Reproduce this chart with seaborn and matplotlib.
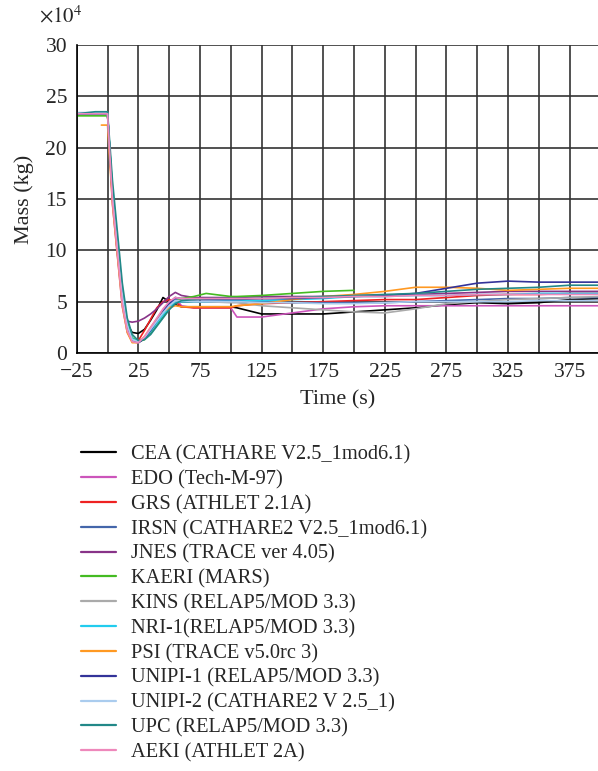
import numpy as np
import pandas as pd
import matplotlib
matplotlib.use("Agg")
import matplotlib.pyplot as plt
from matplotlib.ticker import MultipleLocator
import seaborn as sns

nan = np.nan
# time grid (s)
time_s = [-25, -10, -5, 0, 4, 8, 12, 16, 20, 25, 30, 35, 40, 45, 50, 55, 60,
          70, 80, 100, 105, 125, 150, 175, 200, 225, 250, 275, 300, 325, 350, 375, 400]

# mass values (x 1e4 kg)
cea = [23.3, 23.3, 23.3, 23.3, 15.0, 9.8, 5.0, 2.8, 2.0, 1.9, 2.3, 3.2, 4.2, 5.4, 5.0, 4.7, 4.5,
       4.5, 4.5, 4.5, 4.4, 3.8, 3.8, 3.8, 4.0, 4.2, 4.4, 4.7, 4.9, 4.8, 4.9, 5.2, 5.3]
edo = [23.3, 23.3, 23.3, 23.3, 14.5, 9.5, 4.5, 2.0, 1.1, 1.0, 1.5, 2.4, 3.3, 4.2, 4.9, 5.4, 4.6,
       4.4, 4.4, 4.4, 3.5, 3.5, 3.9, 4.3, 4.5, 4.6, 4.6, 4.6, 4.6, 4.6, 4.6, 4.6, 4.6]
grs = [23.3, 23.3, 23.3, 23.3, 15.3, 10.2, 5.2, 2.4, 1.2, 1.2, 2.2, 3.3, 4.4, 5.0, 5.2, 5.0, 4.5,
       4.4, 4.4, 4.4, 4.6, 4.8, 4.9, 5.0, 5.1, 5.2, 5.2, 5.4, 5.6, 5.7, 5.7, 5.8, 5.8]
irsn = [23.4, 23.4, 23.4, 23.4, 15.5, 10.5, 5.5, 2.6, 1.2, 1.0, 1.4, 2.2, 3.1, 4.0, 4.7, 5.2, 5.1,
        5.0, 5.0, 5.0, 5.0, 5.0, 4.9, 4.9, 4.9, 4.9, 5.0, 5.1, 5.2, 5.3, 5.3, 5.4, 5.4]
jnes = [23.3, 23.3, 23.3, 23.3, 15.2, 10.0, 5.5, 3.1, 3.0, 3.1, 3.4, 3.8, 4.3, 4.9, 5.5, 5.9, 5.6,
        5.4, 5.4, 5.4, 5.4, 5.5, 5.5, 5.5, 5.6, 5.6, 5.7, 5.8, 5.9, 6.0, 6.0, 6.0, 6.0]
kaeri = [23.1, 23.1, 23.1, 23.1, 16.0, 11.0, 6.0, 3.0, 1.5, 1.1, 1.3, 1.9, 2.7, 3.5, 4.3, 5.0, 5.3,
         5.5, 5.8, 5.5, 5.5, 5.6, 5.8, 6.0, 6.1, nan, nan, nan, nan, nan, nan, nan, nan]
kins = [23.3, 23.3, 23.3, 23.3, 15.5, 10.5, 5.5, 2.6, 1.3, 1.1, 1.5, 2.3, 3.2, 4.0, 4.6, 5.0, 5.0,
        5.0, 5.0, 4.9, 4.9, 4.6, 4.4, 4.2, 4.0, 3.9, 4.3, 4.8, 5.0, 5.2, 5.3, 5.4, 5.5]
nri1 = [23.3, 23.3, 23.3, 23.3, 15.8, 10.8, 5.8, 2.8, 1.4, 1.1, 1.4, 2.1, 2.9, 3.7, 4.4, 4.9, 5.0,
        5.0, 5.0, 5.1, 5.1, 5.1, 5.2, 5.3, 5.5, 5.5, 5.6, 5.6, 5.7, 5.7, 5.8, 5.8, 5.8]
psi = [nan, nan, 22.2, 22.2, 14.5, 9.5, 4.6, 2.0, 1.0, 1.0, 1.6, 2.5, 3.3, 4.0, 4.4, 4.6, 4.5,
       4.5, 4.5, 4.5, 4.6, 4.8, 5.2, 5.5, 5.7, 6.0, 6.4, 6.4, 6.3, 6.1, 6.2, 6.3, 6.3]
unipi1 = [23.3, 23.3, 23.3, 23.3, 15.4, 10.4, 5.4, 2.5, 1.2, 1.0, 1.4, 2.2, 3.1, 4.0, 4.8, 5.4, 5.3,
          5.2, 5.2, 5.2, 5.2, 5.3, 5.3, 5.4, 5.5, 5.6, 5.8, 6.3, 6.8, 7.0, 6.9, 6.9, 6.9]
unipi2 = [23.4, 23.4, 23.4, 23.4, 15.6, 10.6, 5.6, 2.7, 1.3, 1.1, 1.5, 2.3, 3.1, 3.9, 4.6, 5.1, 5.1,
          5.0, 5.0, 5.0, 5.0, 4.9, 4.9, 4.8, 4.8, 4.9, 5.0, 5.0, 5.0, 5.0, 5.1, 5.1, 5.1]
upc = [23.3, 23.5, 23.5, 23.5, 16.8, 11.8, 6.8, 3.4, 1.8, 1.2, 1.3, 1.8, 2.6, 3.4, 4.2, 4.8, 5.1,
       5.2, 5.3, 5.3, 5.3, 5.3, 5.4, 5.5, 5.6, 5.7, 5.8, 6.0, 6.2, 6.3, 6.4, 6.6, 6.6]
aeki = [23.3, 23.3, 23.3, 23.3, 14.8, 9.8, 4.8, 2.2, 1.1, 1.0, 1.6, 2.5, 3.4, 4.3, 5.0, 5.4, 5.3,
        5.3, 5.3, 5.3, 5.3, 5.3, 5.4, 5.4, 5.5, 5.5, 5.6, 5.6, 5.7, 5.7, 5.7, 5.7, 5.7]

labels = ["CEA (CATHARE V2.5_1mod6.1)", "EDO (Tech-M-97)", "GRS (ATHLET 2.1A)",
          "IRSN (CATHARE2 V2.5_1mod6.1)", "JNES (TRACE ver 4.05)", "KAERI (MARS)",
          "KINS (RELAP5/MOD 3.3)", "NRI-1(RELAP5/MOD 3.3)", "PSI (TRACE v5.0rc 3)",
          "UNIPI-1 (RELAP5/MOD 3.3)", "UNIPI-2 (CATHARE2 V 2.5_1)", "UPC (RELAP5/MOD 3.3)",
          "AEKI (ATHLET 2A)"]
series = [cea, edo, grs, irsn, jnes, kaeri, kins, nri1, psi, unipi1, unipi2, upc, aeki]
colors = ["#000000", "#cc55bb", "#ee2222", "#4466aa", "#883388", "#44bb22", "#aaaaaa",
          "#22ccee", "#ff9922", "#333399", "#aaccee", "#228888", "#ee88bb"]

rows = []
for lab, vals in zip(labels, series):
    for t, v in zip(time_s, vals):
        rows.append((lab, t, v))
df = pd.DataFrame(rows, columns=["series", "t", "m"]).dropna()

sns.set_style("white")
plt.rcParams['font.family'] = ['Liberation Serif', 'DejaVu Serif']
plt.rcParams['mathtext.fontset'] = 'stix'

fig = plt.figure(figsize=(5.98, 7.71), dpi=100)
ax = fig.add_axes([0.1283, 0.5422, 0.8717, 0.3994])

sns.lineplot(data=df, x="t", y="m", hue="series", hue_order=labels,
             palette=dict(zip(labels, colors)), estimator=None, sort=False,
             linewidth=1.2, ax=ax, legend=False)

ax.set_xlim(-25, 398)
ax.set_ylim(0, 30)
ax.set_xticks(np.arange(-25, 400, 50))
ax.xaxis.set_minor_locator(MultipleLocator(25))
ax.set_yticks(np.arange(0, 31, 5))
ax.grid(True, which="both", color="#333333", linewidth=1.2)
ax.set_axisbelow(True)
ax.tick_params(axis="both", which="both", direction="inout", length=8, width=1.2,
               labelsize=15.5, color="black", pad=3)
for s in ["top", "right"]:
    ax.spines[s].set_visible(False)
for s in ["left", "bottom"]:
    ax.spines[s].set_color("black")
    ax.spines[s].set_linewidth(1.2)

ax.set_xlabel("Time (s)", fontsize=16, labelpad=6)
ax.set_ylabel("Mass (kg)", fontsize=16, labelpad=8)
ax.set_xticklabels(["\u221225"] + [str(v) for v in range(25, 400, 50)])
fig.text(0.066, 0.978, r"$\times10^4$", fontsize=15, ha="left", va="center")

handles = [matplotlib.lines.Line2D([], [], color=c, linewidth=1.6) for c in colors]
fig.legend(handles, labels, loc="upper left", bbox_to_anchor=(0.121, 0.433),
           frameon=False, fontsize=14.7, handlelength=1.75, handletextpad=0.7,
           labelspacing=0.27, borderaxespad=0)

fig.savefig("out.png", dpi=100)
